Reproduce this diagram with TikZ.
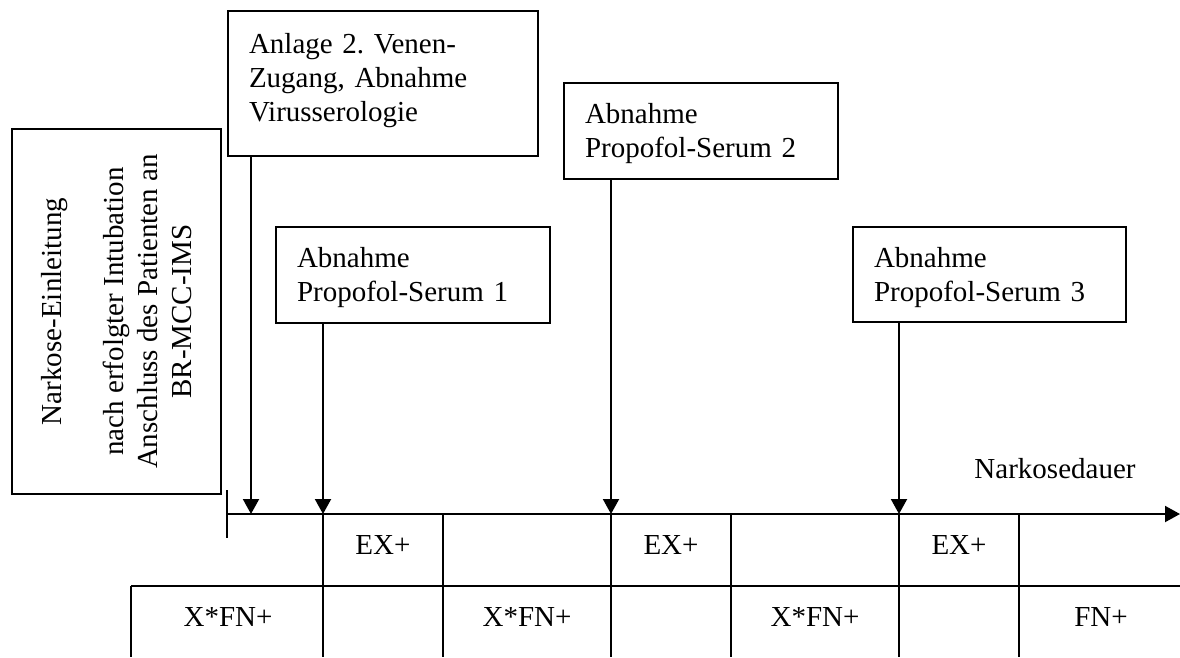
\documentclass[tikz,border=0pt]{standalone}
\usepackage{fontspec}
\setmainfont{Liberation Serif}
\usetikzlibrary{arrows.meta}
\frenchspacing
\begin{document}
\begin{tikzpicture}[x=1pt,y=-1pt,
  txt/.style={font=\fontsize{29}{34}\selectfont, inner sep=0pt},
  boxnode/.style={draw, line width=2pt, txt, align=left, anchor=north west,
                  inner xsep=21pt, inner ysep=0pt},
  arr/.style={line width=2pt, -{Triangle[width=16pt,length=15pt]}},
  gridline/.style={line width=2pt}]
\useasboundingbox (0,0) rectangle (1180,657);

% rotated box on the left
\node[draw, line width=2pt, txt, rotate=90, align=center,
      minimum width=365pt, minimum height=209pt] (lbox) at (116.5,311.5)
  {Narkose-Einleitung\\[28pt]nach erfolgter Intubation\\Anschluss des Patienten an\\BR-MCC-IMS};

% event boxes
\node[boxnode, text width=268pt, text height=42pt, text depth=103pt] (b0) at (227,10)
  {Anlage 2. Venen-\\Zugang, Abnahme\\Virusserologie};
\node[boxnode, text width=232pt, text height=40pt, text depth=56pt] (b1) at (275,226)
  {Abnahme\\Propofol-Serum 1};
\node[boxnode, text width=232pt, text height=40pt, text depth=56pt] (b2) at (563,82)
  {Abnahme\\Propofol-Serum 2};
\node[boxnode, text width=231pt, text height=40pt, text depth=55pt] (b3) at (852,226)
  {Abnahme\\Propofol-Serum 3};

% time axis
\coordinate (ax0) at (227,514);
\coordinate (axE) at (1180,514);
\coordinate (tickT) at (227,490);
\coordinate (tickB) at (227,538);
\draw[arr] (ax0) -- (axE);
\draw[gridline] (tickT) -- (tickB);
\node[txt] (dauer) at (1055,469) {Narkosedauer};

% event points on the axis
\coordinate (p1) at (251,514);
\coordinate (p2) at (323,514);
\coordinate (p3) at (611,514);
\coordinate (p4) at (899,514);
\draw[arr] (b0.south -| p1) -- (p1);
\draw[arr] (b1.south -| p2) -- (p2);
\draw[arr] (b2.south -| p3) -- (p3);
\draw[arr] (b3.south -| p4) -- (p4);

% table below the axis
\coordinate (q1) at (443,514);
\coordinate (q2) at (731,514);
\coordinate (q3) at (1019,514);
\coordinate (rowL) at (131,586);
\coordinate (rowR) at (1180,586);
\foreach \c in {p2,q1,p3,q2,p4,q3}
  \draw[gridline] (\c) -- (\c |- 0,657);
\draw[gridline] (rowL) -- (rowR);
\draw[gridline] (rowL) -- (131,657);

% cell texts
\node[txt] (ex1) at (383,545) {EX+};
\node[txt] (ex2) at (671,545) {EX+};
\node[txt] (ex3) at (959,545) {EX+};
\node[txt] (fn1) at (228,617) {X*FN+};
\node[txt] (fn2) at (527,617) {X*FN+};
\node[txt] (fn3) at (815,617) {X*FN+};
\node[txt] (fn4) at (1101,617) {FN+};
\end{tikzpicture}
\end{document}
